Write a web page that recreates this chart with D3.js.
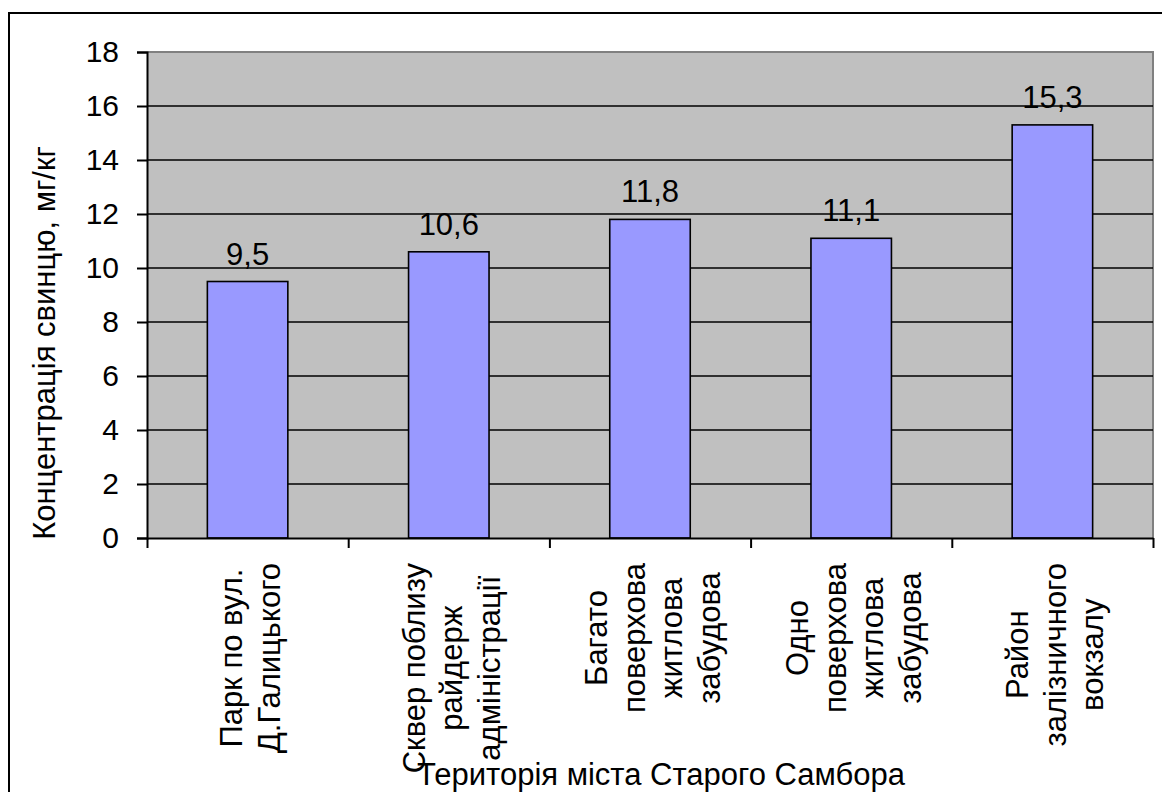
<!DOCTYPE html>
<html>
<head>
<meta charset="utf-8">
<script src="https://cdn.jsdelivr.net/npm/d3@7"></script>
<style>
  body { margin: 0; background: #fff; }
  svg { display: block; }
  text { font-family: "Liberation Sans", Arial, sans-serif; fill: #000; }
</style>
</head>
<body>
<div id="chart"></div>
<script>
// chart data
var categories = ["park", "skver", "bagato", "odno", "vokzal"];
var categoryLines = [
    ["Парк по вул.", "Д.Галицького"],
    ["Сквер поблизу", "райдерж", "адміністрації"],
    ["Багато", "поверхова", "житлова", "забудова"],
    ["Одно", "поверхова", "житлова", "забудова"],
    ["Район", "залізничного", "вокзалу"]
];
var values = [9.5, 10.6, 11.8, 11.1, 15.3];
var valueLabels = ["9,5", "10,6", "11,8", "11,1", "15,3"];
var yTicks = [0, 2, 4, 6, 8, 10, 12, 14, 16, 18];

var svgWidth = 1162;
var svgHeight = 792;

// plot area borders
var plot = { left: 147, top: 52, right: 1153, bottom: 538 };
var fontSize = 31;
var tickFontSize = 30;

var svg = d3.select("#chart")
    .append("svg")
    .attr("width", svgWidth)
    .attr("height", svgHeight);

// outer chart border (right and bottom fall outside the picture)
svg.append("rect")
    .attr("x", 9)
    .attr("y", 13)
    .attr("width", svgWidth)
    .attr("height", svgHeight)
    .attr("fill", "#fff")
    .attr("stroke", "#000")
    .attr("stroke-width", 2);

var x = d3.scaleBand()
    .domain(categories)
    .range([plot.left, plot.right])
    .paddingInner(0.6)
    .paddingOuter(0.3);

// category boundaries for the tick marks
var xEdge = d3.scaleLinear()
    .domain([0, categories.length])
    .range([plot.left, plot.right]);

var y = d3.scaleLinear()
    .domain([0, 18])
    .range([plot.bottom, plot.top]);

// plot background
svg.append("rect")
    .attr("x", plot.left)
    .attr("y", plot.top)
    .attr("width", plot.right - plot.left)
    .attr("height", plot.bottom - plot.top)
    .attr("fill", "#c0c0c0");

svg.append("path")
    .attr("d", `M${plot.left},${plot.top}H${plot.right}V${plot.bottom}`)
    .attr("fill", "none")
    .attr("stroke", "#808080")
    .attr("stroke-width", 2);

// gridlines
svg.append("g")
    .selectAll("line")
    .data(yTicks.filter(d => d > 0 && d < 18))
    .enter()
    .append("line")
    .attr("x1", plot.left)
    .attr("x2", plot.right)
    .attr("y1", d => y(d))
    .attr("y2", d => y(d))
    .attr("stroke", "#000")
    .attr("stroke-width", 1.6);

// bars
svg.append("g")
    .selectAll("rect")
    .data(values)
    .enter()
    .append("rect")
    .attr("x", (d, i) => x(categories[i]))
    .attr("y", d => y(d))
    .attr("width", x.bandwidth())
    .attr("height", d => y(0) - y(d))
    .attr("fill", "#9999ff")
    .attr("stroke", "#000")
    .attr("stroke-width", 1.6);

// value labels
svg.append("g")
    .selectAll("text")
    .data(values)
    .enter()
    .append("text")
    .attr("x", (d, i) => x(categories[i]) + x.bandwidth() / 2)
    .attr("y", d => y(d) - 17)
    .attr("text-anchor", "middle")
    .style("font-size", fontSize + "px")
    .text((d, i) => valueLabels[i]);

// y axis
var leftAxis = d3.axisLeft(y)
    .tickValues(yTicks)
    .tickSize(10)
    .tickPadding(18)
    .tickFormat(d3.format("d"));

var yAxisG = svg.append("g")
    .attr("transform", `translate(${plot.left}, 0)`)
    .call(leftAxis);
yAxisG.select(".domain").attr("stroke", "#000").attr("stroke-width", 2);
yAxisG.selectAll(".tick line").attr("stroke", "#000").attr("stroke-width", 2);
yAxisG.selectAll(".tick text")
    .style("font-size", tickFontSize + "px")
    .style("font-family", "'Liberation Sans', Arial, sans-serif")
    .attr("fill", "#000");

// x axis line and category ticks
var bottomAxis = d3.axisBottom(xEdge)
    .tickValues(d3.range(categories.length + 1))
    .tickSize(10)
    .tickSizeOuter(0)
    .tickFormat("");

var xAxisG = svg.append("g")
    .attr("transform", `translate(0, ${plot.bottom})`)
    .call(bottomAxis);
xAxisG.select(".domain").attr("stroke", "#000").attr("stroke-width", 2);
xAxisG.selectAll(".tick line").attr("stroke", "#000").attr("stroke-width", 2);

// rotated category labels: the longest line starts just below the axis,
// the other lines are centred on it
var lineStep = 37.5;
var labelTop = 563;
categoryLines.forEach(function(lines, i) {
    var cx = x(categories[i]) + x.bandwidth() / 2 + 3;
    var g = svg.append("g");
    var texts = g.selectAll("text")
        .data(lines)
        .enter()
        .append("text")
        .attr("text-anchor", "middle")
        .attr("dominant-baseline", "central")
        .style("font-size", fontSize + "px")
        .text(d => d);
    var maxLen = d3.max(texts.nodes(), n => n.getComputedTextLength());
    var cy = labelTop + maxLen / 2;
    texts.attr("transform", function(d, j) {
        var lx = cx + (j - (lines.length - 1) / 2) * lineStep;
        return `translate(${lx}, ${cy}) rotate(-90)`;
    });
});

// axis titles
svg.append("text")
    .attr("transform", "translate(44, 343) rotate(-90)")
    .attr("text-anchor", "middle")
    .attr("dominant-baseline", "central")
    .style("font-size", fontSize + "px")
    .text("Концентрація свинцю, мг/кг");

svg.append("text")
    .attr("x", 661)
    .attr("y", 785)
    .attr("text-anchor", "middle")
    .style("font-size", fontSize + "px")
    .text("Територія міста Старого Самбора");
</script>
</body>
</html>
